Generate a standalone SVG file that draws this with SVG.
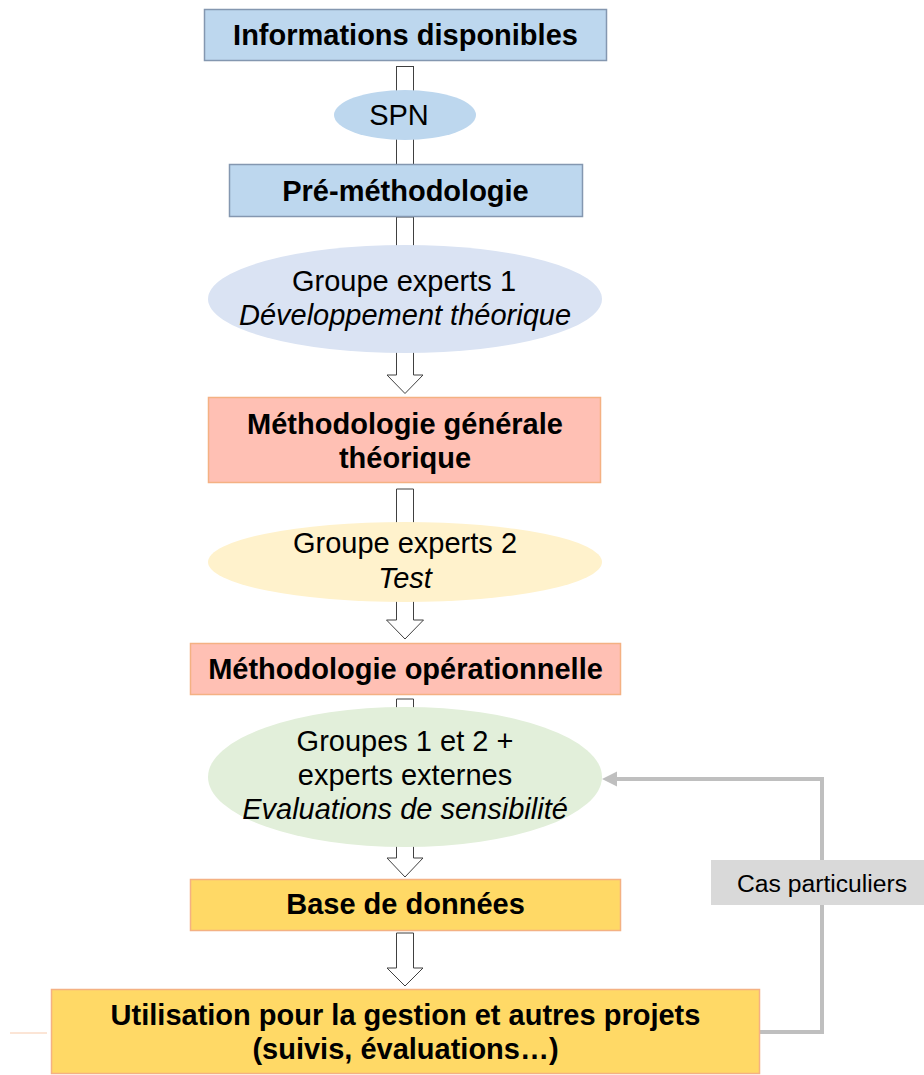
<svg xmlns="http://www.w3.org/2000/svg" width="924" height="1075" viewBox="0 0 924 1075">
<defs>
<style>
.t{font-family:"Liberation Sans",Arial,sans-serif;font-size:29px;fill:#000;text-anchor:middle}
.b{font-weight:bold}
.i{font-style:italic}
.blue{fill:#bdd7ee;stroke:#8497b0;stroke-width:1.5}
.pink{fill:#ffc0b4;stroke:#f4b183;stroke-width:1.5}
.gold{fill:#ffd966;stroke:#f4b183;stroke-width:1.5}
.blk{fill:#fff;stroke:#404040;stroke-width:1}
.fb{fill:none;stroke:#bfbfbf;stroke-width:4}
</style>
</defs>
<rect width="924" height="1075" fill="#fff"/>
<g id="connectors">
<rect class="blk" x="396.5" y="66.5" width="17" height="104"/>
<polygon class="blk" points="396.5,217 413.5,217 413.5,375 423,375 405,393.5 387,375 396.5,375"/>
<polygon class="blk" points="396.5,489 413.5,489 413.5,620 423.5,620 405,639 386.5,620 396.5,620"/>
<polygon class="blk" points="396.5,699 413.5,699 413.5,858 423,858 405,877 387,858 396.5,858"/>
<polygon class="blk" points="396.5,933 413.5,933 413.5,968 423,968 405,986 387,968 396.5,968"/>
<polyline class="fb" points="760,1032 822,1032 822,779 615,779"/>
<polygon points="602,779 617,771.5 617,786.5" fill="#bfbfbf"/>
<line x1="10" y1="1033" x2="47" y2="1033" stroke="#f8cbad" stroke-width="1"/>
</g>
<g id="informations">
<rect class="blue" x="204.5" y="9.5" width="402" height="51"/>
<text class="t b" x="405.5" y="44.5">Informations disponibles</text>
</g>
<g id="spn">
<ellipse cx="405" cy="115" rx="71" ry="25" fill="#bdd7ee"/>
<text class="t" x="399" y="125">SPN</text>
</g>
<g id="premethodologie">
<rect class="blue" x="229.5" y="164.5" width="353" height="52"/>
<text class="t b" x="405.5" y="200.5">Pré-méthodologie</text>
</g>
<g id="groupe1">
<ellipse cx="405" cy="299" rx="197" ry="54" fill="#dae3f3"/>
<text class="t" x="404" y="291">Groupe experts 1</text>
<text class="t i" x="405" y="325">Développement théorique</text>
</g>
<g id="methodologie-generale">
<rect class="pink" x="208.5" y="397.5" width="392" height="85"/>
<text class="t b" x="405" y="434">Méthodologie générale</text>
<text class="t b" x="405" y="468">théorique</text>
</g>
<g id="groupe2">
<ellipse cx="405" cy="562" rx="197" ry="40" fill="#fff2cc"/>
<text class="t" x="405" y="553">Groupe experts 2</text>
<text class="t i" x="405" y="588">Test</text>
</g>
<g id="methodologie-operationnelle">
<rect class="pink" x="190.5" y="643.5" width="430" height="51"/>
<text class="t b" x="405.5" y="679">Méthodologie opérationnelle</text>
</g>
<g id="groupes-externes">
<ellipse cx="405" cy="777" rx="197" ry="70" fill="#e2efda"/>
<text class="t" x="405" y="751">Groupes 1 et 2 +</text>
<text class="t" x="405" y="785">experts externes</text>
<text class="t i" x="405" y="819">Evaluations de sensibilité</text>
</g>
<g id="base-donnees">
<rect class="gold" x="190.5" y="879.5" width="430" height="51"/>
<text class="t b" x="405.5" y="913.5">Base de données</text>
</g>
<g id="utilisation">
<rect class="gold" x="51.5" y="989.5" width="708" height="84"/>
<text class="t b" x="405.5" y="1024.5">Utilisation pour la gestion et autres projets</text>
<text class="t b" x="405.5" y="1058.5">(suivis, évaluations…)</text>
</g>
<g id="cas-particuliers">
<rect x="711" y="860" width="213" height="45" fill="#d9d9d9"/>
<text class="t" x="822" y="892" style="font-size:24.7px">Cas particuliers</text>
</g>
</svg>
